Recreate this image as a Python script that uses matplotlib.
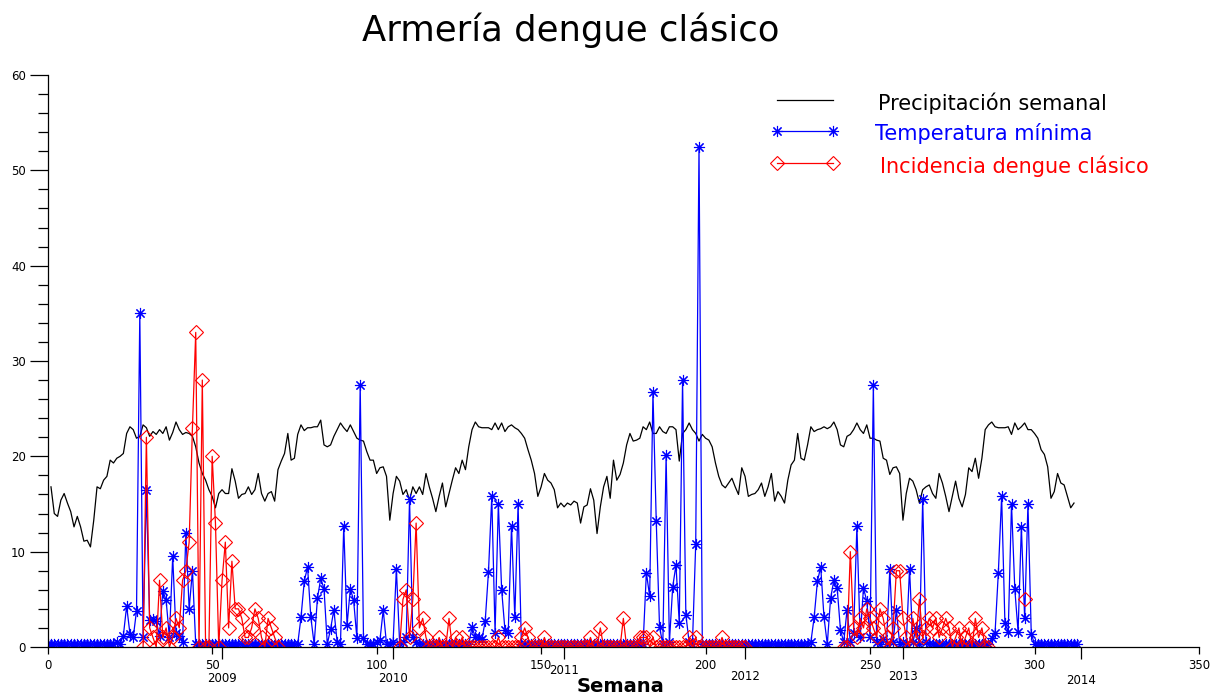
import numpy as np
import matplotlib
matplotlib.use("Agg")
import matplotlib.pyplot as plt
from matplotlib.lines import Line2D
from matplotlib.transforms import offset_copy

nan = np.nan

titulo = "Armería dengue clásico"
etiqueta_x = "Semana"
etiquetas_series = ["Precipitación semanal", "Temperatura mínima", "Incidencia dengue clásico"]

# Year markers along the week axis
anios = ["2009", "2010", "2011", "2012", "2013", "2014"]
semanas_anio = [53, 105, 157, 212, 260, 314]

# Black series, weeks 1..312
precipitacion = [
    16.8, 14.0, 13.7, 15.4, 16.1, 15.1, 14.2, 12.6, 13.7, 12.6,
    11.1, 11.2, 10.5, 13.3, 16.8, 16.6, 17.5, 17.9, 19.6, 19.3,
    19.8, 20.0, 20.3, 22.4, 23.1, 22.8, 21.9, 22.1, 23.3, 23.0,
    22.1, 22.6, 22.3, 22.8, 22.4, 23.1, 21.7, 22.5, 23.6, 22.8,
    22.3, 22.5, 22.4, 22.1, 21.0, 19.3, 18.2, 17.5, 16.5, 15.8,
    14.6, 16.1, 16.5, 16.1, 16.1, 18.7, 17.4, 15.6, 16.0, 16.1,
    16.8, 16.0, 16.5, 18.2, 16.1, 15.3, 16.1, 16.3, 15.3, 18.6,
    19.5, 20.3, 22.4, 19.6, 19.8, 22.3, 23.3, 22.7, 23.0, 23.0,
    23.1, 23.1, 23.8, 21.2, 21.0, 21.2, 22.1, 22.8, 23.5, 23.0,
    22.6, 23.3, 22.6, 21.9, 21.7, 21.6, 20.5, 19.6, 19.6, 18.2,
    18.8, 18.9, 17.9, 13.3, 16.1, 17.9, 17.4, 16.0, 16.5, 15.4,
    16.8, 16.1, 16.8, 16.0, 18.2, 16.8, 15.6, 14.2, 15.8, 17.2,
    14.7, 16.1, 17.5, 18.8, 18.2, 19.6, 18.6, 21.0, 22.8, 23.6,
    23.1, 23.0, 23.0, 23.0, 22.8, 23.5, 22.8, 23.5, 22.6, 23.1,
    23.3, 23.0, 22.8, 22.4, 21.9, 20.7, 19.6, 18.2, 15.8, 16.8,
    18.2, 17.5, 17.2, 16.5, 14.6, 15.1, 14.7, 15.1, 14.9, 15.3,
    15.1, 13.0, 14.7, 14.9, 16.6, 15.4, 11.9, 14.7, 16.8, 17.9,
    15.6, 19.6, 17.5, 18.1, 19.3, 21.2, 22.4, 21.6, 21.7, 21.9,
    23.1, 22.8, 23.6, 22.4, 22.4, 23.1, 22.6, 22.4, 23.1, 23.1,
    22.8, 19.5, 22.4, 22.8, 23.5, 22.8, 22.4, 21.6, 22.3, 21.9,
    21.7, 21.0, 19.3, 17.9, 17.0, 16.7, 17.2, 17.7, 16.8, 16.0,
    18.8, 17.9, 15.8, 16.0, 16.1, 16.5, 17.2, 15.8, 16.8, 18.2,
    15.3, 16.3, 15.8, 15.1, 17.5, 19.1, 19.6, 22.4, 19.8, 19.6,
    21.2, 23.1, 22.6, 22.8, 22.9, 23.1, 22.9, 23.1, 23.6, 22.8,
    21.2, 21.0, 22.1, 22.3, 22.8, 23.5, 22.8, 22.4, 23.3, 21.9,
    21.9, 21.7, 21.6, 19.8, 19.6, 18.1, 18.8, 18.9, 18.2, 13.3,
    16.1, 17.7, 17.4, 16.5, 15.1, 16.5, 16.8, 17.0, 16.1, 15.6,
    18.2, 17.2, 15.8, 14.2, 15.8, 17.4, 15.6, 14.7, 16.0, 18.8,
    18.4, 19.8, 17.7, 19.8, 22.8, 23.3, 23.6, 23.1, 23.0, 23.0,
    23.0, 23.1, 22.3, 23.5, 22.8, 23.1, 23.5, 22.8, 22.8, 22.4,
    21.9, 20.7, 20.2, 18.9, 15.6, 16.3, 18.2, 17.2, 17.0, 15.8,
    14.6, 15.1,
]

# Blue series, weeks 0..313
temperatura = [
    0.3, 0.3, 0.3, 0.3, 0.3, 0.3, 0.3, 0.3, 0.3, 0.3,
    0.3, 0.3, 0.3, 0.3, 0.3, 0.3, 0.3, 0.3, 0.3, 0.3,
    0.3, 0.5, 0.3, 1.2, 4.3, 1.4, 1.0, 3.8, 35.0, 1.0,
    16.5, 2.8, 2.9, 2.7, 1.2, 5.9, 4.9, 1.0, 9.5, 1.5,
    1.2, 0.5, 12.0, 4.0, 8.0, 0.3, 0.3, 0.3, 0.3, 0.3,
    0.3, 0.3, 0.3, 0.3, 0.3, 0.3, 0.3, 0.3, 0.3, 0.3,
    0.3, 0.3, 0.3, 0.3, 0.3, 0.3, 0.3, 0.3, 0.3, 0.3,
    0.3, 0.3, 0.3, 0.3, 0.3, 0.3, 0.3, 3.1, 6.9, 8.4,
    3.1, 0.3, 5.1, 7.2, 6.1, 0.3, 1.9, 3.9, 0.5, 0.3,
    12.7, 2.3, 6.1, 4.9, 0.9, 27.5, 0.9, 0.3, 0.3, 0.3,
    0.5, 0.7, 3.9, 0.3, 0.3, 0.5, 8.2, 0.3, 0.5, 1.0,
    15.5, 1.0, 0.5, 0.3, 0.3, 0.3, 0.3, 0.3, 0.3, 0.3,
    0.3, 0.3, 0.3, 0.3, 0.3, 0.3, 0.3, 0.3, 0.3, 2.1,
    1.0, 1.0, 0.8, 2.7, 7.9, 15.8, 1.5, 15.0, 6.0, 1.8,
    1.5, 12.7, 3.1, 15.0, 0.3, 0.3, 0.3, 0.3, 0.3, 0.3,
    0.3, 0.3, 0.3, 0.3, 0.3, 0.3, 0.3, 0.3, 0.3, 0.3,
    0.3, 0.3, 0.3, 0.3, 0.3, 0.3, 0.3, 0.3, 0.3, 0.3,
    0.3, 0.3, 0.3, 0.3, 0.3, 0.3, 0.3, 0.3, 0.3, 0.3,
    0.3, 0.3, 7.8, 5.3, 26.7, 13.2, 2.1, 0.3, 20.1, 0.5,
    6.3, 8.6, 2.5, 28.0, 3.4, 0.5, 0.3, 10.8, 52.5, 0.3,
    0.3, 0.3, 0.3, 0.3, 0.3, 0.3, 0.3, 0.3, 0.3, 0.3,
    0.3, 0.3, 0.3, 0.3, 0.3, 0.3, 0.3, 0.3, 0.3, 0.3,
    0.3, 0.3, 0.3, 0.3, 0.3, 0.3, 0.3, 0.3, 0.3, 0.3,
    0.3, 0.3, 0.5, 3.1, 6.9, 8.4, 3.1, 0.3, 5.1, 7.0,
    6.2, 1.8, 0.5, 3.9, 0.5, 1.5, 12.7, 1.0, 6.2, 4.8,
    1.1, 27.5, 0.5, 0.3, 0.8, 0.3, 8.2, 0.5, 3.9, 0.3,
    0.5, 0.3, 8.2, 0.5, 2.0, 0.3, 15.5, 0.5, 0.3, 0.3,
    0.3, 0.3, 0.3, 0.3, 0.3, 0.3, 0.3, 0.3, 0.3, 0.3,
    0.3, 0.3, 0.3, 0.3, 0.3, 0.3, 0.3, 0.9, 1.5, 7.8,
    15.8, 2.5, 1.6, 15.0, 6.1, 1.6, 12.6, 3.0, 15.0, 1.4,
    0.3, 0.3, 0.3, 0.3, 0.3, 0.3, 0.3, 0.3, 0.3, 0.3,
    0.3, 0.3, 0.3, 0.3,
]

# Red series, weeks 0..313 (nan = no report)
incidencia = [
    nan, nan, nan, nan, nan, nan, nan, nan, nan, nan,
    nan, nan, nan, nan, nan, nan, nan, nan, nan, nan,
    nan, nan, nan, nan, nan, nan, nan, nan, nan, 0,
    22, 2, 1, 0, 7, 1, 2, 0, 1, 3,
    2, 7, 8, 11, 23, 33, 0, 28, 0, 0,
    20, 13, 0, 7, 11, 2, 9, 4, 4, 3,
    1, 1, 2, 4, 3, 1, 0, 3, 2, 1,
    0, nan, nan, nan, nan, nan, nan, nan, nan, nan,
    nan, nan, nan, nan, nan, nan, nan, nan, nan, nan,
    nan, nan, nan, nan, nan, nan, nan, nan, nan, nan,
    nan, nan, nan, nan, nan, nan, nan, 0, 5, 6,
    1, 5, 13, 2, 3, 1, 0, 0, 0, 1,
    0, 0, 3, 0, 1, 0, 1, 0, 0, 0,
    0, 0, 0, 0, 0, 0, 0, 1, 0, 0,
    0, 0, 0, 0, 1, 2, 1, 0, 0, 0,
    0, 1, 0, 0, 0, 0, 0, 0, 0, 0,
    0, 0, 0, 0, 0, 1, 0, 0, 2, 0,
    0, 0, 0, 0, 0, 3, 0, 0, 0, 0,
    1, 1, 1, 0, 1, 0, 0, 0, 0, 0,
    0, 0, 0, 0, 0, 1, 0, 1, 0, 0,
    0, 0, 0, 0, 0, 1, 0, 0, 0, 0,
    0, 0, 0, nan, nan, nan, nan, nan, nan, nan,
    nan, nan, nan, nan, nan, nan, nan, nan, nan, nan,
    nan, nan, nan, nan, nan, nan, nan, nan, nan, nan,
    nan, nan, 0, 0, 10, 2, 1, 3, 2, 4,
    3, 2, 1, 4, 3, 1, 0, 2, 8, 8,
    3, 1, 0, 3, 1, 5, 1, 2, 3, 2,
    3, 1, 2, 3, 2, 0, 1, 2, 0, 1,
    2, 0, 3, 1, 2, 0, 0, nan, nan, nan,
    nan, nan, nan, nan, nan, nan, nan, 5, nan, nan,
    nan, nan, nan, nan, nan, nan, nan, nan, nan, nan,
    nan, nan, nan, nan,
]

semanas_prec = np.arange(1, len(precipitacion) + 1)
semanas = np.arange(0, len(temperatura))

W, H = 1212, 696
fig = plt.figure(figsize=(W / 100, H / 100), dpi=100)
ax = fig.add_axes([47.7 / W, 49 / H, 1151.3 / W, 572 / H])

asterisco = (8, 2, 0)
estilo_prec = dict(color="black", lw=0.9)
estilo_temp = dict(color="blue", lw=0.9, marker=asterisco, ms=8, mew=0.8)
estilo_inc = dict(color="red", lw=0.9, marker="D", ms=6.8, mfc="none", mec="red", mew=0.8)

ax.plot(semanas_prec, precipitacion, **estilo_prec)
ax.plot(semanas, temperatura, **estilo_temp)
ax.plot(semanas, incidencia, **estilo_inc)

ax.set_xlim(0, 350)
ax.set_ylim(0, 60)
for s in ("top", "right"):
    ax.spines[s].set_visible(False)
for s in ("left", "bottom"):
    ax.spines[s].set_linewidth(0.9)

ax.set_xticks(np.arange(0, 351, 50))
ax.set_xticks(semanas_anio, minor=True)
ax.set_yticks(np.arange(0, 61, 10))
ax.set_yticks(np.arange(0, 61, 2), minor=True)
ax.tick_params(axis="y", which="major", direction="out", length=12.7, width=0.9, pad=3, labelsize=8.5)
ax.tick_params(axis="y", which="minor", direction="out", length=7.2, width=0.9)
ax.tick_params(axis="x", which="major", direction="out", length=5, width=0.9, pad=3.5, labelsize=8.5)
ax.tick_params(axis="x", which="minor", direction="out", length=8.6, width=0.9, labelbottom=False)

# Year labels under the year ticks
desplazamientos = [31, 31, 23, 29, 29, 34]
for semana, anio, dy in zip(semanas_anio, anios, desplazamientos):
    tr = offset_copy(ax.get_xaxis_transform(), fig=fig, x=0, y=-dy, units="dots")
    ax.text(semana, 0, anio, transform=tr, ha="center", va="center", fontsize=8.5)

fig.text(620 / W, 1 - 687 / H, etiqueta_x, ha="center", va="center", fontsize=14, fontweight="bold")
fig.text(571 / W, 1 - 30 / H, titulo, ha="center", va="center", fontsize=25.5)

# Legend drawn in figure pixels
filas = [(100, 878, 103, estilo_prec, "black"),
         (131, 875, 134, estilo_temp, "blue"),
         (163, 880, 166, estilo_inc, "red")]
for (yl, xt, yt, estilo, col), etiqueta in zip(filas, etiquetas_series):
    fig.add_artist(Line2D([777 / W, 833 / W], [1 - yl / H, 1 - yl / H],
                          transform=fig.transFigure, **estilo))
    fig.text(xt / W, 1 - yt / H, etiqueta, ha="left", va="center", fontsize=15, color=col)

fig.savefig("out.png", dpi=100)
